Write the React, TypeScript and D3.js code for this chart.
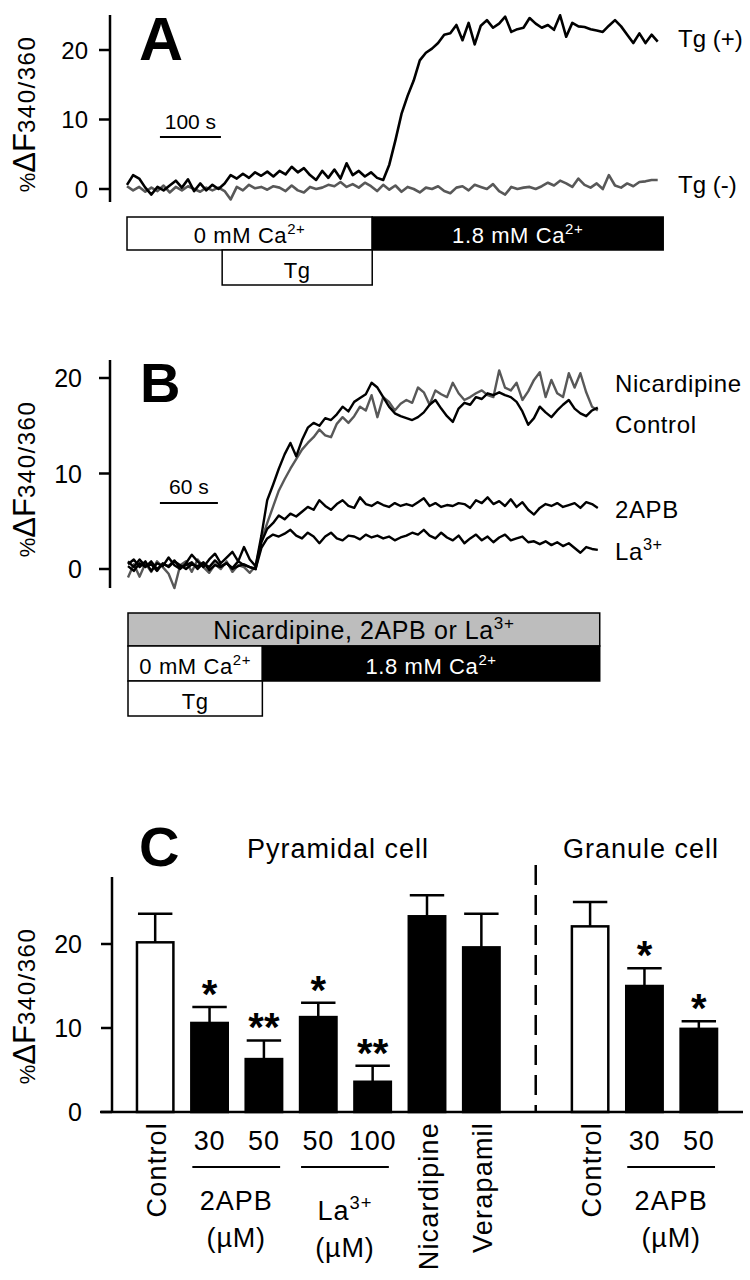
import React from 'react';
import * as d3 from 'd3';

const FONT = "Arial, 'Liberation Sans', Helvetica, sans-serif";

// Panel A: %dF340/360, one sample every 10 s
const stepA = 10;
const tgPlus = [
  0.6, 2.0, 1.5, 0.2, -0.8, 0.3, -0.2, 0.5, 1.2, 0.2,
  1.4, -0.3, 0.8, -0.2, 0.6, 0.0, 0.8, 2.0, 1.5, 2.2,
  1.6, 2.4, 1.9, 2.5, 1.8, 2.6, 2.1, 3.2, 2.4, 3.0,
  2.0, 1.3, 2.6, 1.6, 2.8, 1.5, 3.7, 2.0, 2.6, 1.8,
  2.4, 1.6, 1.3, 3.5, 7.0, 10.8, 13.4, 15.6, 18.5, 19.6,
  20.2, 21.0, 22.2, 22.4, 23.6, 21.4, 23.9, 20.8, 23.5, 24.3,
  23.2, 23.8, 24.8, 22.6, 23.0, 23.2, 24.6, 23.8, 23.2, 23.6,
  22.9, 25.0, 21.9, 23.9, 23.4, 23.3, 23.0, 22.8, 22.6, 23.5,
  24.3, 23.4, 22.2, 21.0, 22.4, 21.0, 22.2, 21.2,
];
const tgMinus = [
  0.4, -0.2, 0.3, -0.4, 0.2, -0.3, 0.5, -0.5, 0.3, -0.2,
  0.4, 0.0, -0.4, 0.2, -0.2, 0.2, -0.3, -1.5, 0.3, -0.2,
  0.6, 0.1, 0.3, -0.1, 0.4, 0.2, -0.3, 0.5, -0.2, -0.5,
  0.3, 0.0, 0.2, 0.6, 0.4, 1.0, 0.3, 0.7, 0.2, 0.9,
  0.4, -0.3, 0.6, -0.1, 0.5, -0.4, 0.3, 0.0, -0.5, 0.2,
  0.0, 0.4, -0.3, -0.6, 0.2, 0.4, -0.2, 0.6, 0.3, 0.0,
  0.7, -0.3, -0.8, 0.3, 0.0, 0.2, 0.3, 0.0, 0.4, 0.9,
  0.5, 1.2, 0.8, 0.3, 1.5, 0.6, 0.2, 0.8, 0.0, 2.0,
  0.5, 0.2, 0.8, 0.4, 1.0, 1.1, 1.3, 1.3,
];

// Panel B: one sample every 6 s
const stepB = 6;
const control = [
  0.5, 1.0, 0.2, 0.8, -0.2, 0.6, 0.3, 1.2, 0.4, 0.0,
  0.6, 1.5, 0.8, 0.2, 1.0, 1.6, 0.6, 1.2, 1.8, 0.8,
  2.3, 1.0, 0.3, 3.5, 7.2, 8.8, 10.5, 12.0, 13.2, 11.8,
  13.5, 14.8, 15.3, 15.0, 15.8, 15.6, 16.2, 17.0, 16.5, 17.5,
  17.9, 18.3, 19.5, 19.0, 18.0, 17.0, 16.3, 16.0, 15.8, 15.6,
  15.9, 16.4, 17.2, 17.7, 16.8, 16.0, 15.4, 16.8, 17.4, 17.2,
  18.0, 17.8, 18.4, 18.2, 18.5, 18.2, 18.0, 17.5, 16.5, 15.1,
  15.8, 17.0, 16.4, 15.9, 16.6, 17.2, 17.7, 16.8, 16.3, 16.0,
  16.6, 16.9,
];
const nicardipine = [
  -0.9, 0.5, -0.8, 0.6, -0.3, 0.8, 0.2, -0.5, -2.0, 0.4,
  0.8, -0.3, 1.0, 0.2, -0.4, 0.5, 0.0, 0.8, -0.3, 0.4,
  0.2, -0.4, 0.3, 3.0, 4.8, 6.5, 8.2, 9.4, 10.5, 11.5,
  12.5, 13.2, 13.8, 14.6, 14.0, 13.8, 15.2, 15.9, 15.3, 16.0,
  17.0, 16.6, 18.2, 15.9, 18.0, 17.5, 16.6, 17.3, 17.7, 17.4,
  19.0, 18.5, 17.2, 18.7, 18.3, 18.0, 19.5, 18.4, 17.7, 18.0,
  18.4, 18.7, 18.2, 18.0, 20.8, 19.0, 18.7, 19.5, 17.7, 18.6,
  19.8, 20.6, 18.0, 19.8, 18.4, 18.0, 20.5, 19.0, 20.5, 18.5,
  17.0, 16.6,
];
const apb = [
  0.3, -0.2, 0.6, 0.2, 0.8, 0.0, 0.5, 0.3, 0.9, 0.1,
  0.4, 0.7, 0.0, 0.6, 0.2, 0.9, 0.3, 0.6, 0.1, 0.8,
  0.4, 0.2, 0.0, 2.8, 4.2, 4.8, 5.6, 5.2, 5.8, 5.5,
  6.0, 6.5, 6.2, 7.2, 6.6, 6.2, 6.8, 7.2, 6.6, 6.4,
  7.5, 6.8, 6.6, 7.0, 6.7, 6.5, 6.9, 6.6, 6.8, 6.6,
  7.0, 7.4, 6.6, 6.9, 6.5, 6.7, 6.6, 6.9, 6.8, 6.4,
  7.2, 6.9, 7.5, 6.8, 7.1, 6.6, 7.3, 6.5, 7.0, 6.2,
  5.7, 6.4, 6.8, 6.6, 6.9, 6.5, 6.7, 6.9, 6.4, 7.0,
  6.8, 6.4,
];
const lanthanum = [
  0.8, 0.2, 1.0, 0.3, 0.5, -0.2, 0.6, 0.2, 0.8, 0.4,
  0.0, 0.5, 0.3, 0.7, -0.1, 0.4, 0.2, 0.6, 0.0, 0.3,
  0.5, 0.2, 0.0, 2.2, 3.2, 3.6, 3.4, 3.7, 4.1, 3.5,
  3.2, 3.8, 3.4, 2.7, 3.4, 3.8, 3.2, 3.0, 3.5, 3.4,
  3.1, 3.6, 3.3, 3.5, 3.2, 3.4, 3.0, 3.3, 3.5, 3.8,
  3.6, 4.1, 3.5, 3.2, 3.8, 3.3, 3.0, 3.5, 2.7, 3.2,
  3.6, 3.0, 3.4, 2.8, 3.3, 3.6, 3.0, 3.2, 3.4, 2.8,
  2.9, 2.6, 2.9, 2.5, 2.8, 2.4, 2.7, 2.2, 1.7, 2.3,
  2.1, 2.0,
];

// Panel C: peak responses
const slots = ['ctrl', 'apb30', 'apb50', 'la50', 'la100', 'nic', 'ver', 'gap', 'gctrl', 'gapb30', 'gapb50'];
const barSlots = ['ctrl', 'apb30', 'apb50', 'la50', 'la100', 'nic', 'ver', 'gctrl', 'gapb30', 'gapb50'];
const barNames = ['Control', '30', '50', '50', '100', 'Nicardipine', 'Verapamil', 'Control', '30', '50'];
const barMeans = [20.2, 10.6, 6.3, 11.3, 3.6, 23.3, 19.6, 22.1, 15.0, 9.9];
const barSem = [3.4, 1.9, 2.2, 1.7, 1.9, 2.5, 4.0, 2.9, 2.1, 0.9];
const barStars = ['', '*', '**', '*', '**', '', '', '', '*', '*'];
const openBars = ['ctrl', 'gctrl'];
const rotatedNames = ['ctrl', 'nic', 'ver', 'gctrl'];
const yTicks = [0, 10, 20];

const Sup = ({ base, sup, fs }: { base: string; sup: string; fs: number }) => (
  <>
    {base}
    <tspan dy={-fs * 0.42} fontSize={fs * 0.68}>{sup}</tspan>
  </>
);

const YLabel = ({ cy }: { cy: number }) => (
  <text transform={`translate(35,${cy}) rotate(-90)`} textAnchor="middle" fontFamily={FONT}>
    <tspan fontSize={22}>%</tspan>
    <tspan fontSize={31}>ΔF</tspan>
    <tspan fontSize={24} letterSpacing={1.5}>340/360</tspan>
  </text>
);

const YAxis = ({ y, x0, top, bottom, fs, labelX }: any) => (
  <g>
    <line x1={x0} x2={x0} y1={top} y2={bottom} stroke="#000" strokeWidth={2.5} />
    {yTicks.map((t) => (
      <g key={t}>
        <line x1={x0 - 11} x2={x0} y1={y(t)} y2={y(t)} stroke="#000" strokeWidth={2.5} />
        <text x={labelX} y={y(t)} dy="0.36em" textAnchor="end" fontSize={fs} fontFamily={FONT}>{t}</text>
      </g>
    ))}
  </g>
);

type Box = { label: string; sup?: string; t0: number; t1: number; y0: number; y1: number; fill: string; fs: number };

const StimBoxes = ({ boxes, x }: { boxes: Box[]; x: any }) => (
  <g>
    {boxes.map((b, i) => (
      <g key={i}>
        <rect x={x(b.t0)} y={b.y0} width={x(b.t1) - x(b.t0)} height={b.y1 - b.y0} fill={b.fill} stroke="#000" strokeWidth={1.5} />
        <text x={(x(b.t0) + x(b.t1)) / 2} y={b.y1 - 7} textAnchor="middle" fontSize={b.fs} fontFamily={FONT}
          fill={b.fill === '#000' ? '#fff' : '#000'} letterSpacing={0.6}>
          {b.sup ? <Sup base={b.label} sup={b.sup} fs={b.fs} /> : b.label}
        </text>
      </g>
    ))}
  </g>
);

export default function App() {
  // ---- panel A scales
  const xA = d3.scaleLinear().domain([0, 100]).range([127, 188]);
  const yA = d3.scaleLinear().domain([0, 20]).range([189, 50]);
  const lineA = d3.line<number>().x((_, i) => xA(i * stepA)).y((d) => yA(d));

  // ---- panel B scales
  const xB = d3.scaleLinear().domain([0, 60]).range([128, 186]);
  const yB = d3.scaleLinear().domain([0, 20]).range([569, 378]);
  const lineB = d3.line<number>().x((_, i) => xB(i * stepB)).y((d) => yB(d));

  // ---- panel C scales
  const xC = d3.scaleBand<string>().domain(slots).range([128, 726]).paddingInner(0.33).paddingOuter(0.165);
  const yC = d3.scaleLinear().domain([0, 20]).range([1112, 944]);
  const bw = xC.bandwidth();
  const cx = (s: string) => (xC(s) as number) + bw / 2;

  const boxesA: Box[] = [
    { label: '0 mM Ca', sup: '2+', t0: 0, t1: 402, y0: 217, y1: 250, fill: '#fff', fs: 22 },
    { label: '1.8 mM Ca', sup: '2+', t0: 402, t1: 879, y0: 217, y1: 250, fill: '#000', fs: 22 },
    { label: 'Tg', t0: 156, t1: 402, y0: 250, y1: 285, fill: '#fff', fs: 22 },
  ];
  const boxesB: Box[] = [
    { label: 'Nicardipine, 2APB or La', sup: '3+', t0: 0, t1: 488, y0: 613, y1: 646, fill: '#bdbdbd', fs: 25 },
    { label: '0 mM Ca', sup: '2+', t0: 0, t1: 139, y0: 646, y1: 681, fill: '#fff', fs: 22 },
    { label: '1.8 mM Ca', sup: '2+', t0: 139, t1: 488, y0: 646, y1: 681, fill: '#000', fs: 22 },
    { label: 'Tg', t0: 0, t1: 139, y0: 681, y1: 716, fill: '#fff', fs: 22 },
  ];

  const tracesB = [
    { values: nicardipine, color: '#585858' },
    { values: control, color: '#000' },
    { values: apb, color: '#000' },
    { values: lanthanum, color: '#000' },
  ];

  const starFs = 40;
  const brackets = [
    { a: 'apb30', b: 'apb50', label: '2APB', sup: '', ly: 1210, uy: 1247 },
    { a: 'la50', b: 'la100', label: 'La', sup: '3+', ly: 1220, uy: 1257 },
    { a: 'gapb30', b: 'gapb50', label: '2APB', sup: '', ly: 1210, uy: 1247 },
  ];

  return (
    <svg width={750} height={1280} style={{ position: 'absolute', left: 0, top: 0, background: '#fff' }}>
      <rect width={750} height={1280} fill="#fff" />

      {/* ---------- A ---------- */}
      <text x={139} y={60} fontSize={61} fontWeight="bold" fontFamily={FONT}>A</text>
      <YLabel cy={114} />
      <YAxis y={yA} x0={110} top={15} bottom={202} fs={24} labelX={88} />
      <line x1={xA(54)} x2={xA(154)} y1={137} y2={137} stroke="#000" strokeWidth={2} />
      <text x={xA(104)} y={129} textAnchor="middle" fontSize={21} fontFamily={FONT}>100 s</text>
      <path d={lineA(tgMinus) as string} fill="none" stroke="#585858" strokeWidth={2.6} strokeLinejoin="round" />
      <path d={lineA(tgPlus) as string} fill="none" stroke="#000" strokeWidth={2.6} strokeLinejoin="round" />
      <text x={678} y={47} fontSize={24} fontFamily={FONT}>Tg (+)</text>
      <text x={678} y={193} fontSize={24} fontFamily={FONT}>Tg (-)</text>
      <StimBoxes boxes={boxesA} x={xA} />

      {/* ---------- B ---------- */}
      <text x={140} y={402} fontSize={56} fontWeight="bold" fontFamily={FONT}>B</text>
      <YLabel cy={479} />
      <YAxis y={yB} x0={110} top={360} bottom={588} fs={25} labelX={82} />
      <line x1={xB(33)} x2={xB(93)} y1={503} y2={503} stroke="#000" strokeWidth={2} />
      <text x={xB(63)} y={494} textAnchor="middle" fontSize={21} fontFamily={FONT}>60 s</text>
      {tracesB.map((t, i) => (
        <path key={i} d={lineB(t.values) as string} fill="none" stroke={t.color} strokeWidth={2.4} strokeLinejoin="round" />
      ))}
      <text x={615} y={392} fontSize={24} letterSpacing={0.6} fontFamily={FONT}>Nicardipine</text>
      <text x={615} y={433} fontSize={24} letterSpacing={0.6} fontFamily={FONT}>Control</text>
      <text x={615} y={518} fontSize={24} letterSpacing={0.6} fontFamily={FONT}>2APB</text>
      <text x={615} y={560} fontSize={24} letterSpacing={0.6} fontFamily={FONT}><Sup base="La" sup="3+" fs={24} /></text>
      <StimBoxes boxes={boxesB} x={xB} />

      {/* ---------- C ---------- */}
      <text x={139} y={866} fontSize={56} fontWeight="bold" fontFamily={FONT}>C</text>
      <text x={338} y={858} textAnchor="middle" fontSize={27} letterSpacing={1} fontFamily={FONT}>Pyramidal cell</text>
      <text x={641} y={858} textAnchor="middle" fontSize={27} letterSpacing={1} fontFamily={FONT}>Granule cell</text>
      <YLabel cy={1006} />
      <line x1={cx('gap')} x2={cx('gap')} y1={865} y2={yC(0)} stroke="#000" strokeWidth={2.5} strokeDasharray="20 10" />

      {barSlots.map((s, i) => {
        const x0 = xC(s) as number;
        const top = yC(barMeans[i] + barSem[i]);
        return (
          <g key={s}>
            <line x1={cx(s)} x2={cx(s)} y1={yC(barMeans[i])} y2={top} stroke="#000" strokeWidth={2.5} />
            <line x1={x0 + 1} x2={x0 + bw - 1} y1={top} y2={top} stroke="#000" strokeWidth={2.5} />
            <rect x={x0} y={yC(barMeans[i])} width={bw} height={yC(0) - yC(barMeans[i])}
              fill={openBars.includes(s) ? '#fff' : '#000'} stroke="#000" strokeWidth={2.5} />
            {barStars[i] && (
              <text x={cx(s)} y={top - 22 + starFs * 0.57} textAnchor="middle" fontSize={starFs} fontWeight="bold" fontFamily={FONT}>
                {barStars[i]}
              </text>
            )}
            {rotatedNames.includes(s) ? (
              <text transform={`translate(${cx(s) + 11},1122) rotate(-90)`} textAnchor="end" fontSize={27} letterSpacing={1.2} fontFamily={FONT}>
                {barNames[i]}
              </text>
            ) : (
              <text x={cx(s)} y={1150} textAnchor="middle" fontSize={27} letterSpacing={0.8} fontFamily={FONT}>{barNames[i]}</text>
            )}
          </g>
        );
      })}

      <YAxis y={yC} x0={112} top={877} bottom={yC(0)} fs={25} labelX={82} />
      <line x1={100} x2={743} y1={yC(0)} y2={yC(0)} stroke="#000" strokeWidth={2.5} />

      {brackets.map((b, i) => {
        const x1 = (xC(b.a) as number) + 1;
        const x2 = (xC(b.b) as number) + bw - 2;
        const mid = (x1 + x2) / 2;
        return (
          <g key={i}>
            <line x1={x1} x2={x2} y1={1167} y2={1167} stroke="#000" strokeWidth={2.2} />
            <text x={mid} y={b.ly} textAnchor="middle" fontSize={27} letterSpacing={1} fontFamily={FONT}>
              {b.sup ? <Sup base={b.label} sup={b.sup} fs={27} /> : b.label}
            </text>
            <text x={mid} y={b.uy} textAnchor="middle" fontSize={27} letterSpacing={0.8} fontFamily={FONT}>(µM)</text>
          </g>
        );
      })}
    </svg>
  );
}
